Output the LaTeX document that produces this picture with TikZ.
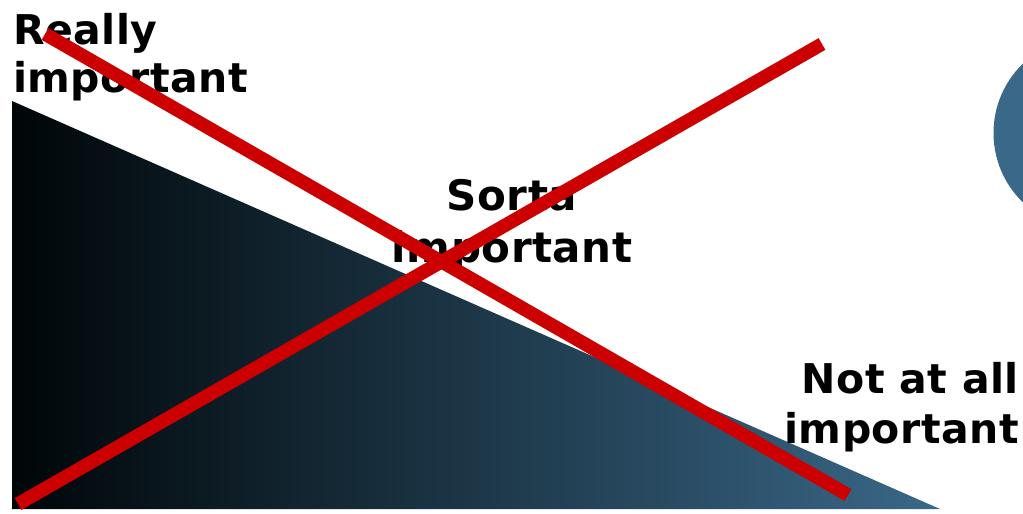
\documentclass[tikz,border=0pt]{standalone}
\usepackage{fontspec}
\setmainfont{DejaVu Sans}[LetterSpace=1.2]
\definecolor{steel}{RGB}{58,104,136}
\definecolor{darkend}{RGB}{0,6,8}
\definecolor{xred}{RGB}{204,0,0}
\begin{document}
\begin{tikzpicture}[x=1pt,y=-1pt,
  lbl/.style={inner sep=0pt,font=\bfseries\fontsize{41}{48}\selectfont,text=black},
  xline/.style={draw=xred,line width=13.5pt,line cap=butt}]
\useasboundingbox (0,0) rectangle (1023,514);
\begin{scope}
\clip (0,0) rectangle (1023,514);
\fill[steel] (1090,133) circle (96.5);
\shade[left color=darkend,right color=steel,shading=axis] (12,101) -- (940,509) -- (12,509) -- cycle;
\node[lbl,anchor=north west,align=left] (really) at (13,13) {Really\\important};
\node[lbl,anchor=north,align=center,font=\bfseries\fontsize{42}{52}\selectfont] (sorta) at (512,179) {Sorta\\important};
\node[lbl,anchor=north east,align=right,font=\bfseries\fontsize{41}{50}\selectfont] (notatall) at (1019,362) {Not at all\\important};
\coordinate (a1) at (45,34);
\coordinate (a2) at (848,495);
\coordinate (b1) at (18,504);
\coordinate (b2) at (822,44);
\draw[xline] (a1) -- (a2);
\draw[xline] (b1) -- (b2);
\end{scope}
\end{tikzpicture}
\end{document}
